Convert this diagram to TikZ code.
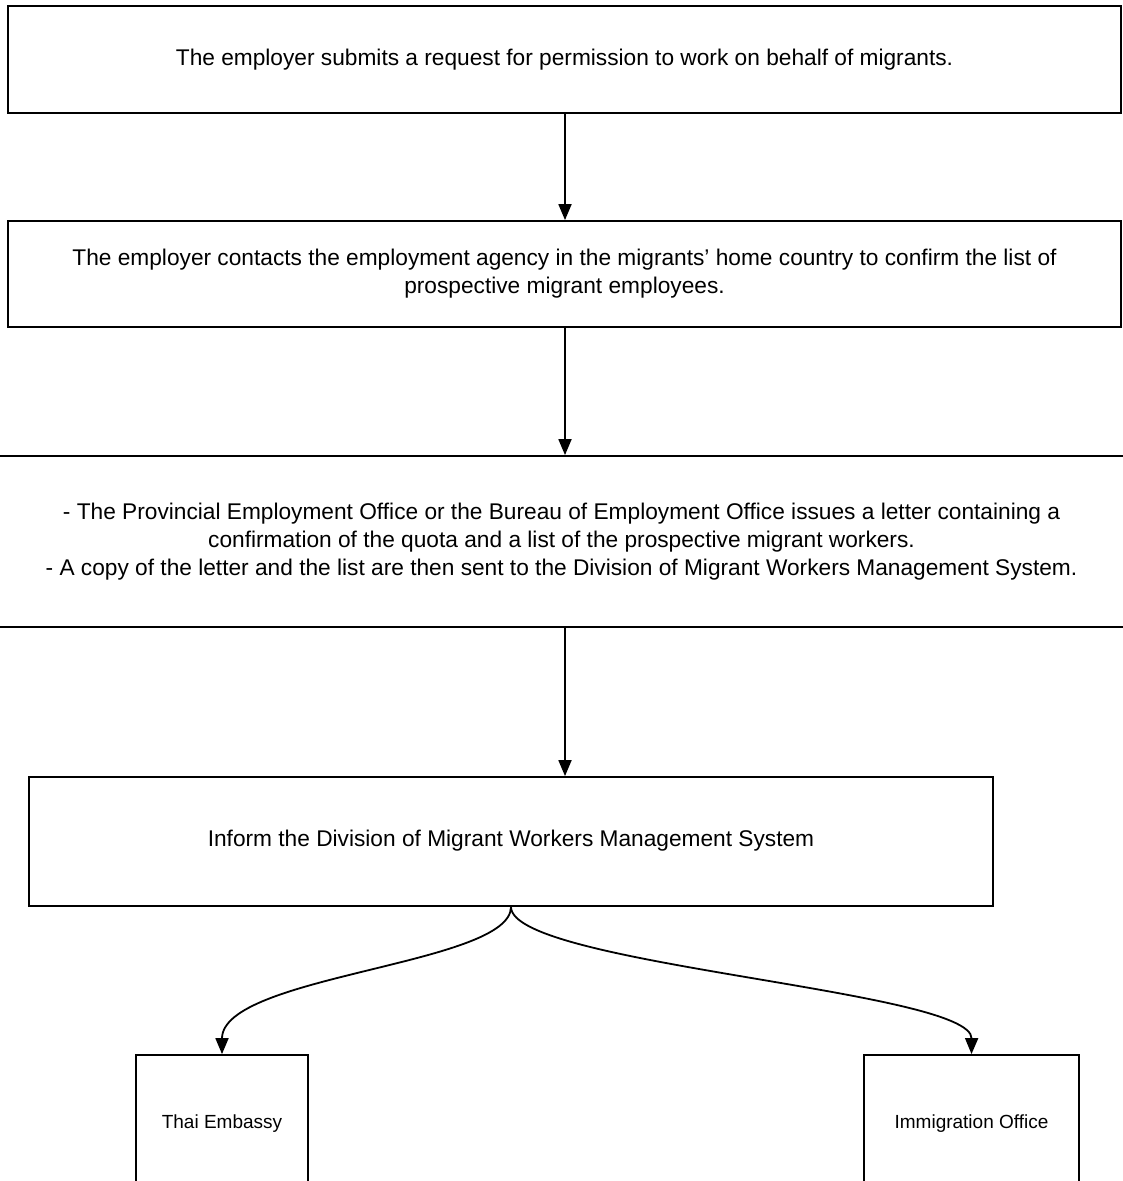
\documentclass[tikz,border=0pt]{standalone}
\usepackage{fontspec}
\setmainfont{Liberation Sans}
\usetikzlibrary{arrows.meta,positioning}

\begin{document}
\begin{tikzpicture}[
  x=1pt, y=-1pt,
  box/.style={rectangle, draw, line width=1.8pt, align=center, inner sep=0pt,
              font=\fontsize{22.7}{28}\selectfont},
  smallbox/.style={box, font=\fontsize{19}{22}\selectfont},
  arrow/.style={-{Triangle[length=16pt,width=13pt]}, line width=1.8pt}
]
  \useasboundingbox (0,0) rectangle (1123,1181);
  \clip (0,0) rectangle (1123,1181);

  \node[box, minimum width=1113pt, minimum height=107pt] (req) at (564.5,59.5)
    {The employer submits a request for permission to work on behalf of migrants.};
  \node[box, minimum width=1113pt, minimum height=106pt] (agency) at (564.5,274)
    {The employer contacts the employment agency in the migrants' home country to confirm the list of\\
     prospective migrant employees.};
  \node[box, minimum width=1160pt, minimum height=171pt] (letter) at (561.5,541.5)
    {- The Provincial Employment Office or the Bureau of Employment Office issues a letter containing a\\
     confirmation of the quota and a list of the prospective migrant workers.\\
     - A copy of the letter and the list are then sent to the Division of Migrant Workers Management System.};
  \node[box, minimum width=964pt, minimum height=129pt] (inform) at (511,841.5)
    {\raisebox{6.5pt}{Inform the Division of Migrant Workers Management System}};
  \node[smallbox, minimum width=172pt, minimum height=160pt] (embassy) at (222,1135)
    {\raisebox{26pt}{Thai Embassy}};
  \node[smallbox, minimum width=215pt, minimum height=160pt] (immig) at (971.5,1135)
    {\raisebox{26pt}{Immigration Office}};

  \draw[arrow] (req.south -| 565,0) -- (agency.north -| 565,0);
  \draw[arrow] (agency.south -| 565,0) -- (letter.north -| 565,0);
  \draw[arrow] (letter.south -| 565,0) -- (inform.north -| 565,0);
  % split to the two offices
  \draw[arrow] (inform.south) .. controls (511,965) and (222,975) .. (embassy.north);
  \draw[arrow] (inform.south) .. controls (511,965) and (972,990) .. (immig.north);
\end{tikzpicture}
\end{document}
